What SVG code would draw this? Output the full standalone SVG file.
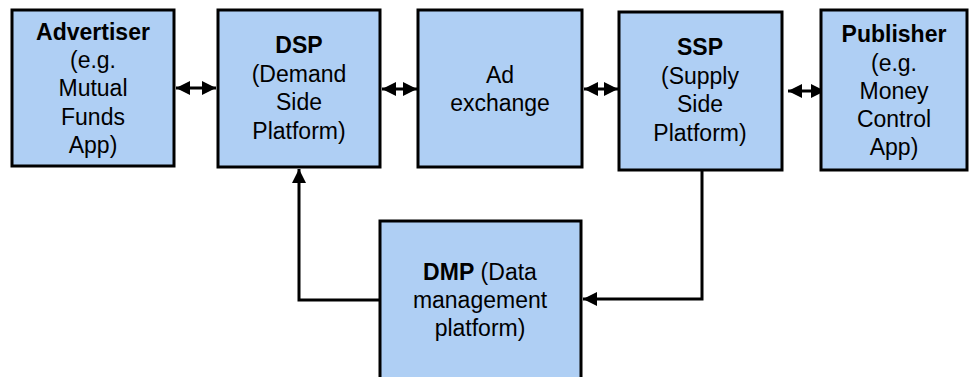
<svg xmlns="http://www.w3.org/2000/svg" width="969" height="377" viewBox="0 0 969 377">
<style>
.box{fill:#afcff4;stroke:#000;stroke-width:3}
text{font-family:"Liberation Sans",Arial,sans-serif;font-size:23px;fill:#000;text-anchor:middle}
.b{font-weight:bold}
.c{fill:none;stroke:#000;stroke-width:3}
</style>
<defs>
<marker id="ah" markerUnits="userSpaceOnUse" markerWidth="15" markerHeight="14" refX="14" refY="7" orient="auto-start-reverse">
<path d="M0,0 L14,7 L0,14 Z" fill="#000"/>
</marker>
</defs>
<g id="connectors">
<path class="c" d="M176,88 H216" marker-start="url(#ah)" marker-end="url(#ah)"/>
<path class="c" d="M382,89 H417" marker-start="url(#ah)" marker-end="url(#ah)"/>
<path class="c" d="M584,89 H618" marker-start="url(#ah)" marker-end="url(#ah)"/>
<path class="c" d="M788,91 H825" marker-start="url(#ah)" marker-end="url(#ah)"/>
<path class="c" d="M380,300 H299 V169" marker-end="url(#ah)"/>
<path class="c" d="M702,170 V299 H583" marker-end="url(#ah)"/>
</g>
<g id="advertiser">
<rect class="box" x="12" y="10" width="162" height="156"/>
<text x="93" y="40" class="b">Advertiser</text>
<text x="93" y="68">(e.g.</text>
<text x="93" y="96">Mutual</text>
<text x="93" y="125">Funds</text>
<text x="93" y="153">App)</text>
</g>
<g id="dsp">
<rect class="box" x="218" y="10" width="162" height="157"/>
<text x="299" y="53" class="b">DSP</text>
<text x="299" y="82">(Demand</text>
<text x="299" y="110">Side</text>
<text x="299" y="139">Platform)</text>
</g>
<g id="adexchange">
<rect class="box" x="418" y="10" width="164" height="157"/>
<text x="500" y="83">Ad</text>
<text x="500" y="111">exchange</text>
</g>
<g id="ssp">
<rect class="box" x="619" y="12" width="163" height="158"/>
<text x="700" y="55" class="b">SSP</text>
<text x="700" y="84">(Supply</text>
<text x="700" y="112">Side</text>
<text x="700" y="141">Platform)</text>
</g>
<g id="publisher">
<rect class="box" x="821" y="10" width="146" height="160"/>
<text x="894" y="42" class="b">Publisher</text>
<text x="894" y="71">(e.g.</text>
<text x="894" y="99">Money</text>
<text x="894" y="127">Control</text>
<text x="894" y="155">App)</text>
</g>
<g id="dmp">
<rect class="box" x="380" y="221" width="201" height="170"/>
<text x="480" y="280"><tspan class="b">DMP</tspan> (Data</text>
<text x="480" y="308">management</text>
<text x="480" y="336">platform)</text>
</g>
</svg>
